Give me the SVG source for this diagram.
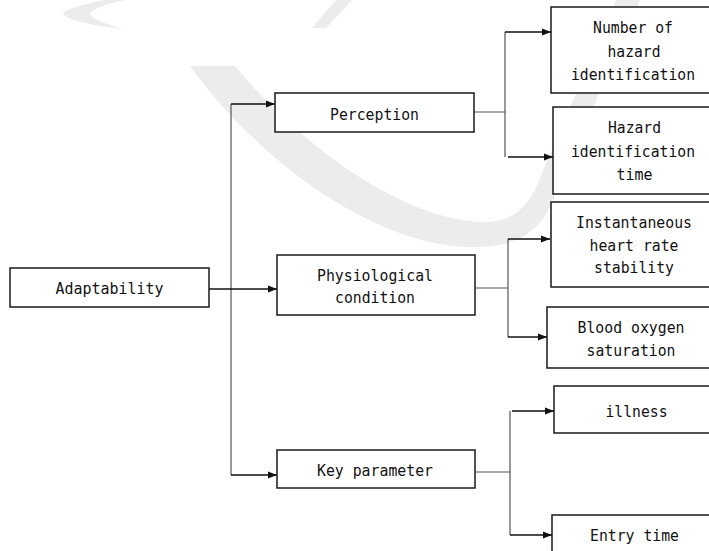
<svg xmlns="http://www.w3.org/2000/svg" width="709" height="551" viewBox="0 0 709 551">
<style>
.box{fill:#fff;stroke:#1a1a1a;stroke-width:1.5}
.obox{fill:#fff;stroke:#1a1a1a;stroke-width:1.5}
.lbl{font-family:"DejaVu Sans Mono","Liberation Mono",monospace;font-size:16.5px;fill:#111;text-anchor:middle}
.sm{font-size:15px}
.ln{fill:none;stroke:#555;stroke-width:1.2}
.ar{fill:none;stroke:#111;stroke-width:1.6;marker-end:url(#ah)}
.wm{fill:#ececec}
</style>
<defs>
<marker id="ah" markerUnits="userSpaceOnUse" markerWidth="10" markerHeight="8" refX="9" refY="4" orient="auto">
<path d="M0,0.5 L9,4 L0,7.5 z" fill="#111"/>
</marker>
</defs>
<rect width="709" height="551" fill="#fff"/>
<g id="watermark">
<path class="wm" d="M104,0 C80,5 64,10 63,14 C66,20 95,26 122,29 C100,22 88,17 90,13 C94,8 110,3 125,0 Z"/>
<path class="wm" d="M336,0 L352,0 L326,28 L312,28 Z"/>
<path class="wm" d="M190,66 C250,150 370,250 480,247 C520,246 545,228 556,192 L640,0 L616,0 L540,178 C528,212 506,224 480,222 C400,218 300,145 235,66 Z"/>
</g>
<g id="connectors">
<path class="ln" d="M231,104 V475"/>
<path class="ar" d="M231,104 H275"/>
<path class="ar" d="M209,289 H277"/>
<path class="ar" d="M231,475 H277"/>
<path class="ln" d="M474,112 H505 M505,32 V157"/>
<path class="ar" d="M505,32 H551"/>
<path class="ar" d="M508,157 H553"/>
<path class="ln" d="M475,288 H508 M508,239 V337"/>
<path class="ar" d="M508,239 H550"/>
<path class="ar" d="M508,337 H547"/>
<path class="ln" d="M475,472 H510 M510,411 V535"/>
<path class="ar" d="M512,411 H554"/>
<path class="ar" d="M510,535 H552"/>
</g>
<g id="adaptability">
<rect class="box" x="10" y="268" width="199" height="39"/>
<text class="lbl" x="109.5" y="294" textLength="108" lengthAdjust="spacingAndGlyphs">Adaptability</text>
</g>
<g id="perception">
<rect class="box" x="275" y="93" width="199" height="39"/>
<text class="lbl" x="374.5" y="120" textLength="89" lengthAdjust="spacingAndGlyphs">Perception</text>
</g>
<g id="physiological">
<rect class="box" x="277" y="255" width="198" height="60"/>
<text class="lbl" x="375" y="281" textLength="116" lengthAdjust="spacingAndGlyphs">Physiological</text>
<text class="lbl" x="375" y="303" textLength="80" lengthAdjust="spacingAndGlyphs">condition</text>
</g>
<g id="keyparam">
<rect class="box" x="277" y="450" width="198" height="38"/>
<text class="lbl" x="375" y="476" textLength="116" lengthAdjust="spacingAndGlyphs">Key parameter</text>
</g>
<g id="number">
<path class="obox" d="M709,7 H551 V93 H709"/>
<text class="lbl" x="633" y="33" textLength="80" lengthAdjust="spacingAndGlyphs">Number of</text>
<text class="lbl" x="634" y="57" textLength="53" lengthAdjust="spacingAndGlyphs">hazard</text>
<text class="lbl sm" x="633" y="80" textLength="124" lengthAdjust="spacingAndGlyphs">identification</text>
</g>
<g id="hazardtime">
<path class="obox" d="M709,107 H553 V194 H709"/>
<text class="lbl" x="634.5" y="133" textLength="53" lengthAdjust="spacingAndGlyphs">Hazard</text>
<text class="lbl sm" x="633" y="157" textLength="124" lengthAdjust="spacingAndGlyphs">identification</text>
<text class="lbl" x="634.5" y="180" textLength="36" lengthAdjust="spacingAndGlyphs">time</text>
</g>
<g id="heartrate">
<path class="obox" d="M709,202 H551 V287 H709"/>
<text class="lbl" x="634" y="228" textLength="116" lengthAdjust="spacingAndGlyphs">Instantaneous</text>
<text class="lbl" x="634" y="251" textLength="89" lengthAdjust="spacingAndGlyphs">heart rate</text>
<text class="lbl" x="634" y="273" textLength="80" lengthAdjust="spacingAndGlyphs">stability</text>
</g>
<g id="bloodoxygen">
<path class="obox" d="M709,307 H547 V368 H709"/>
<text class="lbl" x="631" y="333" textLength="107" lengthAdjust="spacingAndGlyphs">Blood oxygen</text>
<text class="lbl" x="631" y="356" textLength="89" lengthAdjust="spacingAndGlyphs">saturation</text>
</g>
<g id="illness">
<path class="obox" d="M709,386 H554 V433 H709"/>
<text class="lbl" x="636.5" y="417" textLength="62" lengthAdjust="spacingAndGlyphs">illness</text>
</g>
<g id="entrytime">
<path class="obox" d="M709,515 H552 V551"/>
<text class="lbl" x="634.5" y="541" textLength="89" lengthAdjust="spacingAndGlyphs">Entry time</text>
</g>
</svg>
